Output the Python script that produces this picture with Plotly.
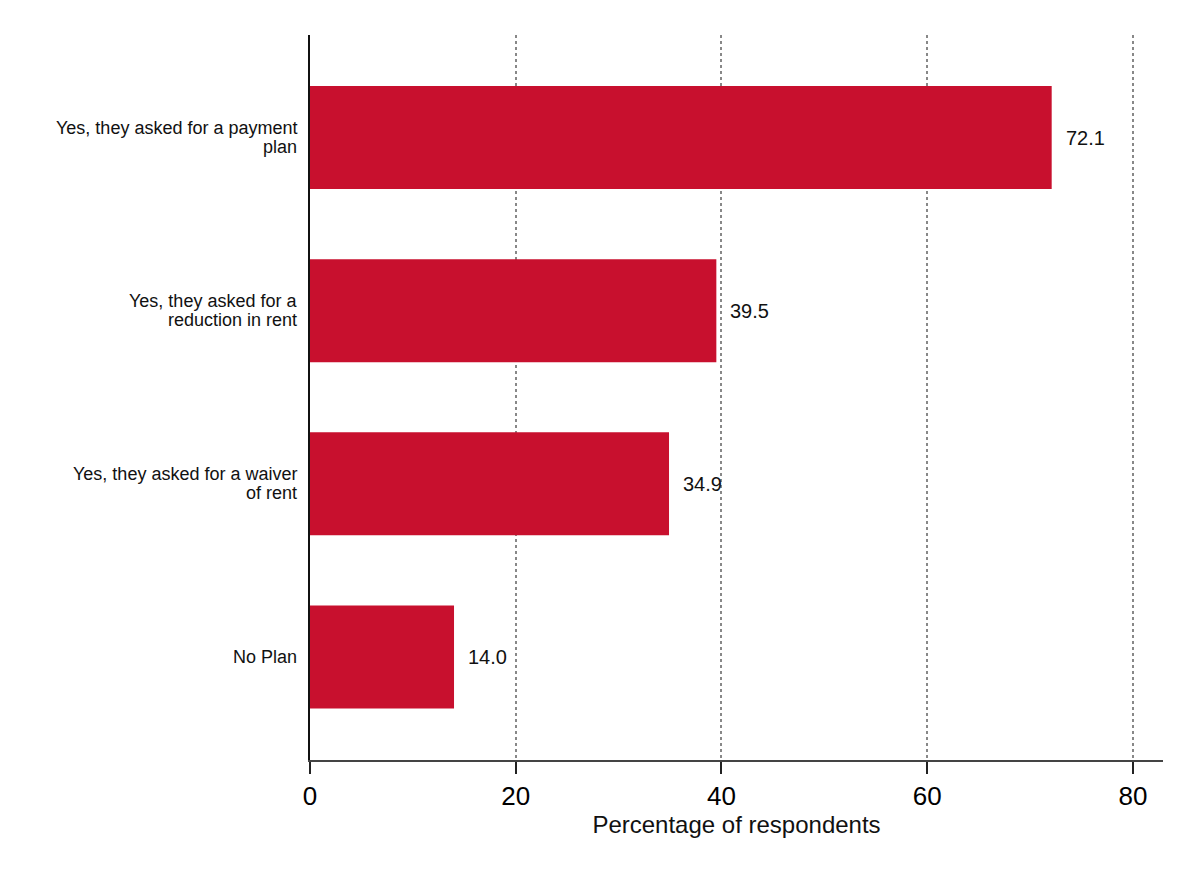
import plotly.graph_objects as go

categories = [
    "Yes, they asked for a payment<br>plan",
    "Yes, they asked for a<br>reduction in rent",
    "Yes, they asked for a waiver<br>of rent",
    "No Plan",
]
values = [72.1, 39.5, 34.9, 14.0]
labels = ["72.1", "39.5", "34.9", "14.0"]
x_ticks = [0, 20, 40, 60, 80]
positions = list(range(len(categories)))

fig = go.Figure()
fig.add_trace(go.Bar(
    x=values, y=positions, orientation="h",
    marker=dict(color="#C8102E", line=dict(width=0)),
    width=0.595, showlegend=False, hoverinfo="skip",
))

for p, v, t in zip(positions, values, labels):
    fig.add_annotation(x=v, y=p, text=t, showarrow=False, xanchor="left",
                       xshift=12, font=dict(family="Arial, Liberation Sans", size=20, color="#111"))

# category labels, right-aligned next to the axis, with tight line spacing
line_gap = 19
for p, cat in zip(positions, categories):
    lines = cat.split("<br>")
    n = len(lines)
    for i, ln in enumerate(lines):
        off = ((n - 1) / 2 - i) * line_gap
        fig.add_annotation(xref="paper", x=0, y=p, yref="y", text=ln, showarrow=False,
                           xanchor="right", yanchor="middle", xshift=-11, yshift=off,
                           font=dict(family="Arial, Liberation Sans", size=18, color="#111"))

fig.update_layout(
    width=1185, height=864,
    margin=dict(l=302, r=30, t=27, b=112, autoexpand=False),
    paper_bgcolor="white", plot_bgcolor="white",
    font=dict(family="Arial, Liberation Sans", color="#111"),
    xaxis=dict(
        range=[0, 82.92], tickvals=x_ticks, ticktext=[str(t) for t in x_ticks],
        showgrid=True, gridcolor="#888", griddash="dot", gridwidth=1.5,
        showline=True, linecolor="#444", linewidth=2,
        ticks="outside", ticklen=12, tickwidth=2, tickcolor="#222",
        tickfont=dict(size=26, color="#000"),
        title=dict(text="Percentage of respondents", font=dict(size=24, color="#111"), standoff=0),
        zeroline=False,
    ),
    yaxis=dict(
        range=[3.595, -0.592], tickvals=positions, showticklabels=False,
        showgrid=False, zeroline=False,
        showline=True, linecolor="#111", linewidth=2,
        ticks="",
    ),
)

fig.write_html("out.html")
